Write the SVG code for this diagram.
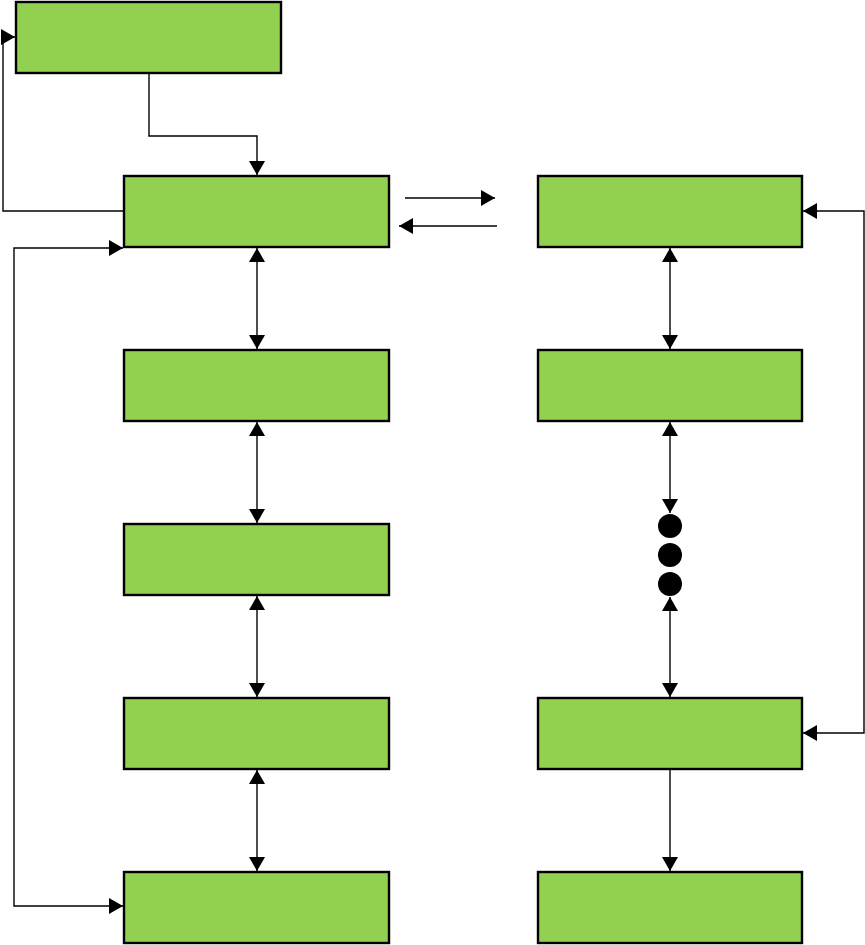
<svg xmlns="http://www.w3.org/2000/svg" width="865" height="945" viewBox="0 0 865 945">
<style>
.box{fill:#92D050;stroke:#000;stroke-width:2.4}
.c{fill:none;stroke:#000;stroke-width:1.4}
</style>
<defs>
<marker id="ah" viewBox="0 0 14 16" refX="14" refY="8" markerWidth="14" markerHeight="16" markerUnits="userSpaceOnUse" orient="auto-start-reverse">
<path d="M0,0 L14,8 L0,16 Z" fill="#000"/>
</marker>
</defs>
<rect width="865" height="945" fill="#fff"/>
<g id="top"><rect class="box" x="16" y="2" width="265" height="71"/></g>
<g id="L1"><rect class="box" x="124" y="176" width="265" height="71"/></g>
<g id="L2"><rect class="box" x="124" y="350" width="265" height="71"/></g>
<g id="L3"><rect class="box" x="124" y="524" width="265" height="71"/></g>
<g id="L4"><rect class="box" x="124" y="698" width="265" height="71"/></g>
<g id="L5"><rect class="box" x="124" y="872" width="265" height="71"/></g>
<g id="R1"><rect class="box" x="538" y="176" width="264" height="71"/></g>
<g id="R2"><rect class="box" x="538" y="350" width="264" height="71"/></g>
<g id="R4"><rect class="box" x="538" y="698" width="264" height="71"/></g>
<g id="R5"><rect class="box" x="538" y="872" width="264" height="71"/></g>
<g id="dots">
<circle cx="670" cy="526" r="12"/>
<circle cx="670" cy="555" r="12"/>
<circle cx="670" cy="584" r="12"/>
</g>
<g id="connectors">
<path class="c" d="M149,73 V136 H257 V175" marker-end="url(#ah)"/>
<path class="c" d="M124,211 H3 V37 H15" marker-end="url(#ah)"/>
<path class="c" d="M123,248 H14 V906 H123" marker-start="url(#ah)" marker-end="url(#ah)"/>
<path class="c" d="M257,248 V349" marker-start="url(#ah)" marker-end="url(#ah)"/>
<path class="c" d="M257,422 V523" marker-start="url(#ah)" marker-end="url(#ah)"/>
<path class="c" d="M257,596 V697" marker-start="url(#ah)" marker-end="url(#ah)"/>
<path class="c" d="M257,770 V871" marker-start="url(#ah)" marker-end="url(#ah)"/>
<path class="c" d="M405,198 H495" marker-end="url(#ah)"/>
<path class="c" d="M497,226 H399" marker-end="url(#ah)"/>
<path class="c" d="M670,248 V349" marker-start="url(#ah)" marker-end="url(#ah)"/>
<path class="c" d="M670,422 V513" marker-start="url(#ah)" marker-end="url(#ah)"/>
<path class="c" d="M670,597 V697" marker-start="url(#ah)" marker-end="url(#ah)"/>
<path class="c" d="M670,770 V871" marker-end="url(#ah)"/>
<path class="c" d="M803,733 H864 V211 H803" marker-start="url(#ah)" marker-end="url(#ah)"/>
</g>
</svg>
